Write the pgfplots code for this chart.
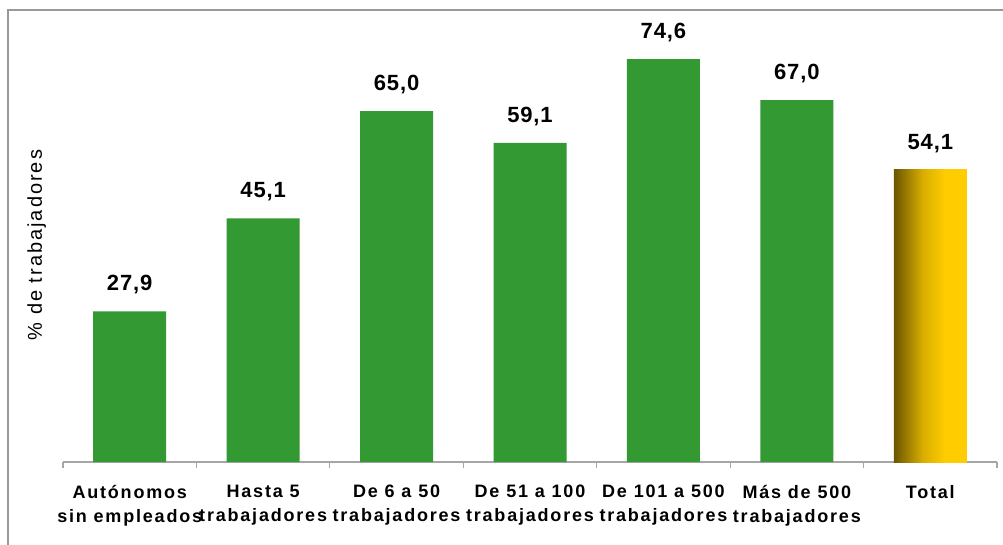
\documentclass[border=0pt]{standalone}
\usepackage{fontspec}
\setmainfont{Liberation Sans}
\newfontfamily\spaced[LetterSpace=10]{Liberation Sans}
\newfontfamily\spacedval[LetterSpace=4]{Liberation Sans}
\usepackage{pgfplots}
\pgfplotsset{compat=1.18}
\definecolor{bargreen}{HTML}{339933}
\definecolor{golddark}{HTML}{6B5500}
\definecolor{goldmid}{HTML}{D9AE00}
\definecolor{goldlight}{HTML}{FFCC00}
\definecolor{framegray}{HTML}{999999}
\definecolor{axisgray}{HTML}{A6A6A6}
\pgfdeclarehorizontalshading{goldbar}{100bp}{color(0bp)=(golddark); color(25bp)=(golddark); color(45bp)=(goldmid); color(60bp)=(goldlight); color(100bp)=(goldlight)}
\begin{document}
\begin{tikzpicture}
\path[use as bounding box] (0,0) rectangle (752.25pt,408pt);
\draw[framegray, line width=1.5pt] (6pt,-2pt) -- (6pt,400.5pt) -- (754pt,400.5pt);
\begin{axis}[
  at={(47.25pt,61.5pt)}, anchor=south west,
  scale only axis, width=700.5pt, height=324pt,
  xmin=-0.5, xmax=6.5, ymin=0, ymax=80,
  axis lines*=left,
  y axis line style={draw=none},
  x axis line style={axisgray, line width=1.1pt},
  ytick=\empty,
  xtick={0,1,2,3,4,5,6},
  xticklabels={Autónomos\\sin empleados, Hasta 5\\trabajadores, De 6 a 50\\trabajadores, De 51 a 100\\trabajadores, De 101 a 500\\trabajadores, Más de 500\\trabajadores, Total},
  major tick length=0pt,
  xticklabel style={align=center, font=\spaced\bfseries\fontsize{13.5pt}{18pt}\selectfont, anchor=north, yshift=-14pt},
  extra x ticks={-0.5,0.5,1.5,2.5,3.5,4.5,5.5,6.5},
  extra x tick labels={},
  extra x tick style={major tick length=4.5pt, tick align=outside, tick style={axisgray, line width=0.9pt}},
  ybar, bar width=54.75pt, bar shift=0pt,
  clip=false,
  nodes near coords={\pgfmathprintnumber[fixed, fixed zerofill, precision=1, use comma, assume math mode=true]{\pgfplotspointmeta}},
  nodes near coords style={font=\spacedval\bfseries\fontsize{16.5pt}{20pt}\selectfont, anchor=base, yshift=15.5pt, inner sep=0pt},
]
\addplot[draw=none, fill=bargreen] coordinates {(0,27.9) (1,45.1) (2,65.0) (3,59.1) (4,74.6) (5,67.0)};
\addplot[draw=none, shading=goldbar] coordinates {(6,54.1)};
\end{axis}
\node[rotate=90, font=\spaced\fontsize{15pt}{18pt}\selectfont] at (27.5pt,224.25pt) {\% de trabajadores};
\end{tikzpicture}
\end{document}
